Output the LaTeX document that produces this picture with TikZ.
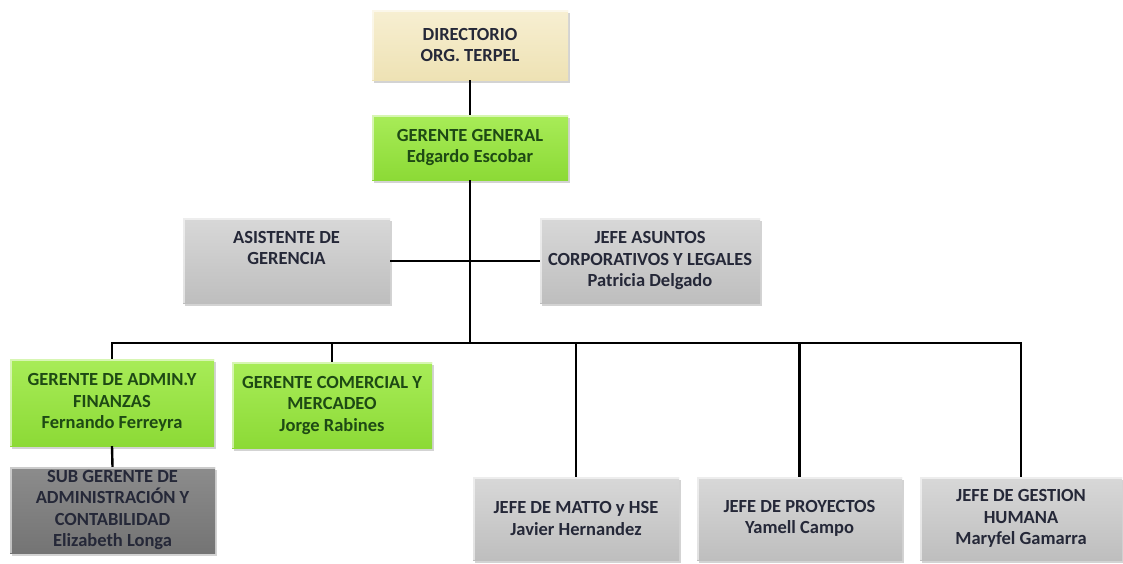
\documentclass[tikz,border=0pt]{standalone}
\usepackage{fontspec}
\setmainfont{Carlito}
\usetikzlibrary{shadows}

\definecolor{beigeTop}{HTML}{F7EFD2}
\definecolor{beigeBot}{HTML}{EEE2B4}
\definecolor{greenTop}{HTML}{A8EC58}
\definecolor{greenBot}{HTML}{8CDA36}
\definecolor{grayTop}{HTML}{D8D8D8}
\definecolor{grayBot}{HTML}{BEBEBE}
\definecolor{darkTop}{HTML}{8C8C8C}
\definecolor{darkBot}{HTML}{747474}
\definecolor{greenText}{HTML}{1E4A14}
\definecolor{grayText}{HTML}{252838}

\tikzset{
  orgbox/.style={rectangle, inner sep=2pt, align=center,
    font=\fontsize{18.5}{21.5}\selectfont\bfseries,
    drop shadow={shadow xshift=2pt, shadow yshift=-2.5pt, opacity=0.35},
    % light bevel along the top and left edges
    path picture={
      \draw[white, opacity=0.55, line width=3pt]
        (path picture bounding box.south west) --
        (path picture bounding box.north west) --
        (path picture bounding box.north east);
    }},
  beigebox/.style={orgbox, top color=beigeTop, bottom color=beigeBot, text=grayText},
  greenbox/.style={orgbox, top color=greenTop, bottom color=greenBot, text=greenText},
  graybox/.style={orgbox, top color=grayTop, bottom color=grayBot, text=grayText},
  darkbox/.style={orgbox, top color=darkTop, bottom color=darkBot, text=grayText},
  link/.style={line width=2.4pt, black},
}

\begin{document}
\begin{tikzpicture}[x=1pt, y=-1pt]
  \useasboundingbox (0,0) rectangle (1123,563);

  % top of the chart
  \node[beigebox, minimum width=196pt, minimum height=70pt] (dir) at (470,45)
    {DIRECTORIO\\ORG. TERPEL};
  \node[greenbox, minimum width=196pt, minimum height=65pt] (gg) at (470,147.5)
    {GERENTE GENERAL\\Edgardo Escobar};

  % staff positions
  \node[graybox, minimum width=207pt, minimum height=85pt] (asis) at (286.5,260.5)
    {ASISTENTE DE\\GERENCIA\\[4pt]};
  \node[graybox, minimum width=220pt, minimum height=85pt] (legal) at (650,260.5)
    {JEFE ASUNTOS\\CORPORATIVOS Y LEGALES\\Patricia Delgado};

  % line managers
  \node[greenbox, minimum width=204pt, minimum height=87pt] (admin) at (112,402.5)
    {GERENTE DE ADMIN.Y\\FINANZAS\\Fernando Ferreyra};
  \node[greenbox, minimum width=200pt, minimum height=86pt] (comer) at (332,405)
    {GERENTE COMERCIAL Y\\MERCADEO\\Jorge Rabines};
  \node[darkbox, minimum width=205pt, minimum height=86pt] (sub) at (112.5,510)
    {SUB GERENTE DE\\ADMINISTRACIÓN Y\\CONTABILIDAD\\Elizabeth Longa};
  \node[graybox, minimum width=206pt, minimum height=83pt] (matto) at (576,518.5)
    {JEFE DE MATTO y HSE\\Javier Hernandez};
  \node[graybox, minimum width=205pt, minimum height=83pt] (proy) at (799.5,518.5)
    {JEFE DE PROYECTOS\\Yamell Campo};
  \node[graybox, minimum width=202pt, minimum height=83pt] (gest) at (1021,518.5)
    {JEFE DE GESTION\\HUMANA\\Maryfel Gamarra};

  % junction points of the connectors
  \coordinate (bus) at (470,343);
  \coordinate (staff) at (470,261);

  % connectors
  \draw[link] (dir.south) -- (gg.north);
  \draw[link] (gg.south) -- (bus);
  \draw[link] (asis.east |- staff) -- (legal.west |- staff);
  \draw[link] (admin.north) -- (admin.north |- bus) -- (gest.north |- bus) -- (gest.north);
  \draw[link] (comer.north |- bus) -- (comer.north);
  \draw[link] (matto.north |- bus) -- (matto.north);
  \draw[link] (proy.north |- bus) -- (proy.north);
  \draw[link] (admin.south) -- (sub.north);
\end{tikzpicture}
\end{document}
